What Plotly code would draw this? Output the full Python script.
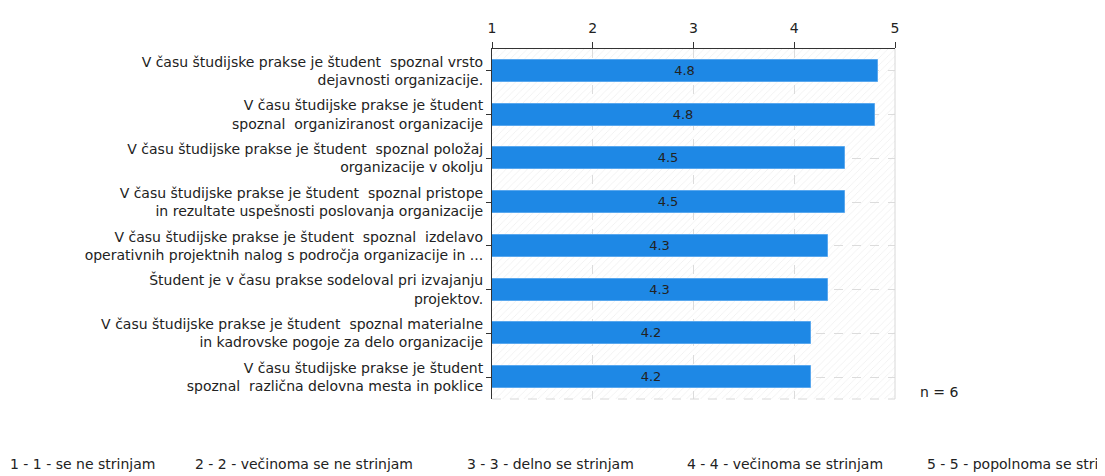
import plotly.graph_objects as go

categories = [
    "V času študijske prakse je študent  spoznal vrsto<br>dejavnosti organizacije.",
    "V času študijske prakse je študent<br>spoznal  organiziranost organizacije",
    "V času študijske prakse je študent  spoznal položaj<br>organizacije v okolju",
    "V času študijske prakse je študent  spoznal pristope<br>in rezultate uspešnosti poslovanja organizacije",
    "V času študijske prakse je študent  spoznal  izdelavo<br>operativnih projektnih nalog s področja organizacije in ...",
    "Študent je v času prakse sodeloval pri izvajanju<br>projektov.",
    "V času študijske prakse je študent  spoznal materialne<br>in kadrovske pogoje za delo organizacije",
    "V času študijske prakse je študent<br>spoznal  različna delovna mesta in poklice",
]
values = [4.83, 4.8, 4.5, 4.5, 4.33, 4.33, 4.17, 4.17]
value_labels = ["4.8", "4.8", "4.5", "4.5", "4.3", "4.3", "4.2", "4.2"]
x_ticks = [1, 2, 3, 4, 5]
legend_items = [
    "1 - 1 - se ne strinjam",
    "2 - 2 - večinoma se ne strinjam",
    "3 - 3 - delno se strinjam",
    "4 - 4 - večinoma se strinjam",
    "5 - 5 - popolnoma se strinjam",
]
legend_x = [8, 193, 465, 685, 925]
n_text = "n = 6"

FONT = "DejaVu Sans, Verdana, sans-serif"
TXT = "#222222"
ypos = list(range(len(categories)))

# page body has an 8px margin, so figure coords = page coords - 8
OFF = 8
PL, PR, PT, PB = 492, 895, 38, 399   # plot area in page pixels
W, H = 1105 - OFF, 476 - OFF

fig = go.Figure()
# hatched background
fig.add_trace(go.Bar(
    x=[x_ticks[-1] - x_ticks[0]], y=[(len(categories) - 1) / 2], base=[x_ticks[0]],
    width=[len(categories)], orientation="h",
    marker=dict(color="rgba(0,0,0,0)", line=dict(width=0),
                pattern=dict(shape="/", fgcolor="#dddddd", bgcolor="rgba(0,0,0,0)",
                             size=5, solidity=0.15)),
    hoverinfo="skip", showlegend=False,
))
fig.add_trace(go.Bar(
    x=[v - x_ticks[0] for v in values], y=ypos, base=[x_ticks[0]] * len(values),
    orientation="h", width=0.5,
    marker=dict(color="#1E88E5", line=dict(color="#5aa8ee", width=1)),
    text=value_labels, textposition="inside", insidetextanchor="middle",
    textfont=dict(family=FONT, size=13, color=TXT),
    showlegend=False,
))

shapes = [
    dict(type="line", xref="paper", yref="paper", x0=0, x1=1, y0=0, y1=0,
         line=dict(color="#d8d8d8", width=1, dash="dash")),
    dict(type="line", xref="paper", yref="paper", x0=1, x1=1, y0=0, y1=1,
         line=dict(color="#d8d8d8", width=1)),
]

pw, ph = PR - PL, PB - PT
annotations = []
for lx, t in zip(legend_x, legend_items):
    annotations.append(dict(x=(lx - PL) / pw, y=-(466 - PB) / ph,
                            xref="paper", yref="paper", text=t, showarrow=False,
                            xanchor="left", yanchor="middle",
                            font=dict(family=FONT, size=14, color=TXT)))
annotations.append(dict(x=(918 - PL) / pw, y=(PB - 392) / ph,
                        xref="paper", yref="paper", text=n_text, showarrow=False,
                        xanchor="left", yanchor="middle",
                        font=dict(family=FONT, size=14, color=TXT)))

fig.update_layout(
    width=W, height=H,
    margin=dict(l=PL - OFF, r=W - (PR - OFF), t=PT - OFF, b=H - (PB - OFF)),
    paper_bgcolor="white", plot_bgcolor="white",
    barmode="overlay", bargap=0,
    font=dict(family=FONT, size=13, color=TXT),
    shapes=shapes, annotations=annotations,
    xaxis=dict(side="top", range=[1, 5], tickvals=x_ticks, ticktext=[str(t) for t in x_ticks],
               ticks="outside", ticklen=6, tickcolor="#333", showline=True, linecolor="#333",
               linewidth=1, showgrid=True, gridcolor="#dcdcdc", griddash="dash",
               ticklabelstandoff=3,
               zeroline=False, tickfont=dict(family=FONT, size=14, color=TXT), fixedrange=True),
    yaxis=dict(range=[len(categories) - 0.5, -0.5], tickvals=ypos, ticktext=categories,
               ticks="outside", ticklen=5, tickcolor="#333", showline=True, linecolor="#333",
               linewidth=1, showgrid=True, gridcolor="#dcdcdc", griddash="dash",
               zeroline=False, tickfont=dict(family=FONT, size=14, color=TXT), fixedrange=True),
)

fig.write_html("out.html")
